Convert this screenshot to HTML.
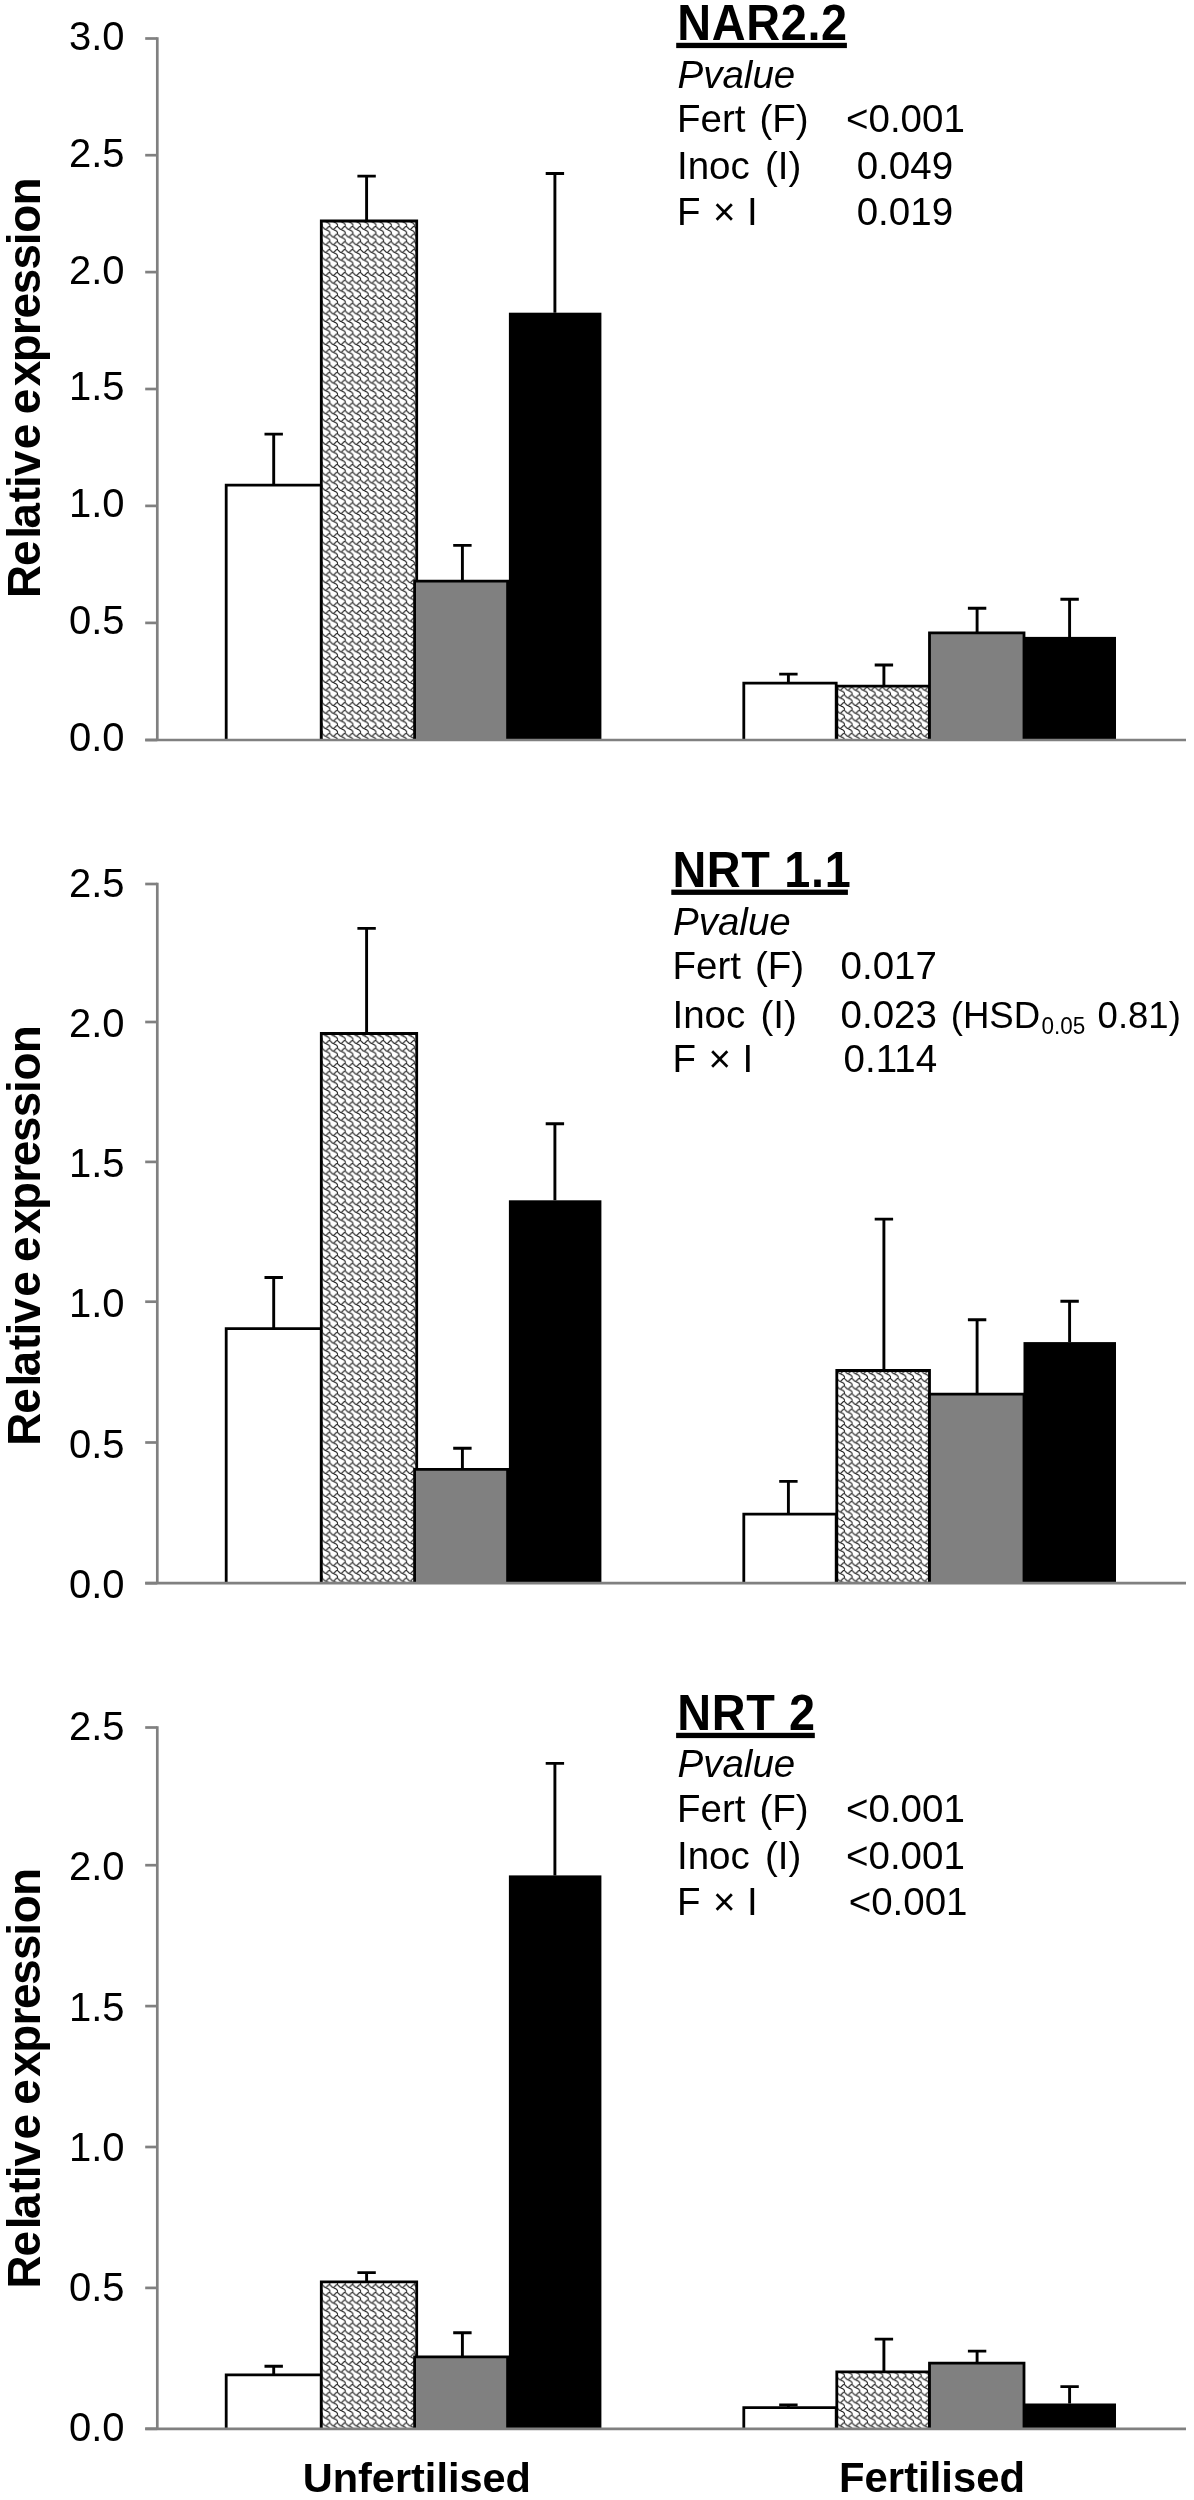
<!DOCTYPE html>
<html><head><meta charset="utf-8"><title>Relative expression</title>
<style>html,body{margin:0;padding:0;background:#fff;}svg{display:block;will-change:transform;}text{font-family:"Liberation Sans",sans-serif;fill:#000;}.tk{font-size:40px;}.pv{font-size:38.5px;}.ti{font-size:48px;font-weight:bold;}.yl{font-size:45.8px;font-weight:bold;}.xl{font-size:41.5px;font-weight:bold;}</style></head><body>
<svg width="1194" height="2500" viewBox="0 0 1194 2500">
<defs>
<pattern id="wv" width="8" height="8" patternUnits="userSpaceOnUse" patternTransform="translate(0.11,3.3) scale(0.96)"><rect x="-1" y="-1" width="10" height="10" fill="#fff"/><path d="M-7.5,-6.5 L-6.5,-5.5 L-5.5,-4.5 L-4.5,-4.5 L-3.5,-3.5 L-2.5,-3.5 L-1.5,-2.5 L-0.5,-1.5 L-0.5,-0.5 L-0.5,0.5 L0.5,1.5 M-0.5,-7.5 L-1.5,-7.5 L-2.5,-6.5 L-3.5,-5.5 L-4.5,-4.5 M-7.5,1.5 L-6.5,2.5 L-5.5,3.5 L-4.5,3.5 L-3.5,4.5 L-2.5,4.5 L-1.5,5.5 L-0.5,6.5 L-0.5,7.5 L-0.5,8.5 L0.5,9.5 M-0.5,0.5 L-1.5,0.5 L-2.5,1.5 L-3.5,2.5 L-4.5,3.5 M-7.5,9.5 L-6.5,10.5 L-5.5,11.5 L-4.5,11.5 L-3.5,12.5 L-2.5,12.5 L-1.5,13.5 L-0.5,14.5 L-0.5,15.5 L-0.5,16.5 L0.5,17.5 M-0.5,8.5 L-1.5,8.5 L-2.5,9.5 L-3.5,10.5 L-4.5,11.5 M0.5,-6.5 L1.5,-5.5 L2.5,-4.5 L3.5,-4.5 L4.5,-3.5 L5.5,-3.5 L6.5,-2.5 L7.5,-1.5 L7.5,-0.5 L7.5,0.5 L8.5,1.5 M7.5,-7.5 L6.5,-7.5 L5.5,-6.5 L4.5,-5.5 L3.5,-4.5 M0.5,1.5 L1.5,2.5 L2.5,3.5 L3.5,3.5 L4.5,4.5 L5.5,4.5 L6.5,5.5 L7.5,6.5 L7.5,7.5 L7.5,8.5 L8.5,9.5 M7.5,0.5 L6.5,0.5 L5.5,1.5 L4.5,2.5 L3.5,3.5 M0.5,9.5 L1.5,10.5 L2.5,11.5 L3.5,11.5 L4.5,12.5 L5.5,12.5 L6.5,13.5 L7.5,14.5 L7.5,15.5 L7.5,16.5 L8.5,17.5 M7.5,8.5 L6.5,8.5 L5.5,9.5 L4.5,10.5 L3.5,11.5 M8.5,-6.5 L9.5,-5.5 L10.5,-4.5 L11.5,-4.5 L12.5,-3.5 L13.5,-3.5 L14.5,-2.5 L15.5,-1.5 L15.5,-0.5 L15.5,0.5 L16.5,1.5 M15.5,-7.5 L14.5,-7.5 L13.5,-6.5 L12.5,-5.5 L11.5,-4.5 M8.5,1.5 L9.5,2.5 L10.5,3.5 L11.5,3.5 L12.5,4.5 L13.5,4.5 L14.5,5.5 L15.5,6.5 L15.5,7.5 L15.5,8.5 L16.5,9.5 M15.5,0.5 L14.5,0.5 L13.5,1.5 L12.5,2.5 L11.5,3.5 M8.5,9.5 L9.5,10.5 L10.5,11.5 L11.5,11.5 L12.5,12.5 L13.5,12.5 L14.5,13.5 L15.5,14.5 L15.5,15.5 L15.5,16.5 L16.5,17.5 M15.5,8.5 L14.5,8.5 L13.5,9.5 L12.5,10.5 L11.5,11.5 " stroke="#2a2a2a" stroke-width="1.08" fill="none" stroke-linejoin="round" stroke-linecap="round"/></pattern>
</defs>
<rect width="1194" height="2500" fill="#fff"/>
<g>
<path d="M226.20,740.00 L226.20,485.10 L321.30,485.10 L321.30,740.00" fill="#fff" stroke="#000" stroke-width="2.8" stroke-linejoin="miter"/>
<path d="M321.30,740.00 L321.30,221.00 L416.70,221.00 L416.70,740.00" fill="url(#wv)" stroke="#000" stroke-width="2.8" stroke-linejoin="miter"/>
<path d="M414.60,740.00 L414.60,581.20 L507.60,581.20 L507.60,740.00" fill="#808080" stroke="#000" stroke-width="2.8" stroke-linejoin="miter"/>
<rect x="508.90" y="312.70" width="92.50" height="427.30" fill="#000"/>
<path d="M273.70,485.10 L273.70,434.10 M264.50,434.10 L282.90,434.10" stroke="#000" stroke-width="2.9" fill="none"/>
<path d="M366.60,221.00 L366.60,176.10 M357.40,176.10 L375.80,176.10" stroke="#000" stroke-width="2.9" fill="none"/>
<path d="M462.40,581.20 L462.40,545.40 M453.20,545.40 L471.60,545.40" stroke="#000" stroke-width="2.9" fill="none"/>
<path d="M554.90,312.70 L554.90,173.50 M545.70,173.50 L564.10,173.50" stroke="#000" stroke-width="2.9" fill="none"/>
<path d="M743.80,740.00 L743.80,683.20 L836.20,683.20 L836.20,740.00" fill="#fff" stroke="#000" stroke-width="2.8" stroke-linejoin="miter"/>
<path d="M836.80,740.00 L836.80,686.10 L929.50,686.10 L929.50,740.00" fill="url(#wv)" stroke="#000" stroke-width="2.8" stroke-linejoin="miter"/>
<path d="M929.50,740.00 L929.50,632.90 L1024.00,632.90 L1024.00,740.00" fill="#808080" stroke="#000" stroke-width="2.8" stroke-linejoin="miter"/>
<rect x="1023.50" y="636.90" width="92.50" height="103.10" fill="#000"/>
<path d="M788.40,683.20 L788.40,674.10 M779.20,674.10 L797.60,674.10" stroke="#000" stroke-width="2.9" fill="none"/>
<path d="M883.90,686.10 L883.90,665.00 M874.70,665.00 L893.10,665.00" stroke="#000" stroke-width="2.9" fill="none"/>
<path d="M977.10,632.90 L977.10,608.30 M967.90,608.30 L986.30,608.30" stroke="#000" stroke-width="2.9" fill="none"/>
<path d="M1069.60,636.90 L1069.60,599.20 M1060.40,599.20 L1078.80,599.20" stroke="#000" stroke-width="2.9" fill="none"/>
<path d="M157.3,37.15 L157.3,740.00" stroke="#808080" stroke-width="2.7" fill="none"/>
<path d="M145.2,740.00 L1186,740.00" stroke="#808080" stroke-width="2.7" fill="none"/>
<path d="M145.2,38.50 L157.3,38.50" stroke="#808080" stroke-width="2.7" fill="none"/>
<text class="tk" transform="translate(68.9,50.20) scale(1,1.035)">3.0</text>
<path d="M145.2,155.20 L157.3,155.20" stroke="#808080" stroke-width="2.7" fill="none"/>
<text class="tk" transform="translate(68.9,166.95) scale(1,1.035)">2.5</text>
<path d="M145.2,272.10 L157.3,272.10" stroke="#808080" stroke-width="2.7" fill="none"/>
<text class="tk" transform="translate(68.9,283.70) scale(1,1.035)">2.0</text>
<path d="M145.2,389.00 L157.3,389.00" stroke="#808080" stroke-width="2.7" fill="none"/>
<text class="tk" transform="translate(68.9,400.45) scale(1,1.035)">1.5</text>
<path d="M145.2,505.90 L157.3,505.90" stroke="#808080" stroke-width="2.7" fill="none"/>
<text class="tk" transform="translate(68.9,517.20) scale(1,1.035)">1.0</text>
<path d="M145.2,622.90 L157.3,622.90" stroke="#808080" stroke-width="2.7" fill="none"/>
<text class="tk" transform="translate(68.9,633.95) scale(1,1.035)">0.5</text>
<path d="M145.2,740.00 L157.3,740.00" stroke="#808080" stroke-width="2.7" fill="none"/>
<text class="tk" transform="translate(68.9,750.70) scale(1,1.035)">0.0</text>
<text class="yl" transform="translate(40.2,595.00) rotate(-90) scale(1,1.01)" x="-3.02 28.91 56.23 66.56 92.68 107.13 119.01 145.86 180.81 208.81 232.76 259.84 276.41 300.75 325.45 349.83 362.26 389.44">Relativeexpression</text>
</g>
<g>
<path d="M226.20,1583.20 L226.20,1328.60 L321.30,1328.60 L321.30,1583.20" fill="#fff" stroke="#000" stroke-width="2.8" stroke-linejoin="miter"/>
<path d="M321.30,1583.20 L321.30,1033.50 L416.70,1033.50 L416.70,1583.20" fill="url(#wv)" stroke="#000" stroke-width="2.8" stroke-linejoin="miter"/>
<path d="M414.60,1583.20 L414.60,1469.30 L507.60,1469.30 L507.60,1583.20" fill="#808080" stroke="#000" stroke-width="2.8" stroke-linejoin="miter"/>
<rect x="508.90" y="1200.30" width="92.50" height="382.90" fill="#000"/>
<path d="M273.70,1328.60 L273.70,1277.50 M264.50,1277.50 L282.90,1277.50" stroke="#000" stroke-width="2.9" fill="none"/>
<path d="M366.60,1033.50 L366.60,928.40 M357.40,928.40 L375.80,928.40" stroke="#000" stroke-width="2.9" fill="none"/>
<path d="M462.40,1469.30 L462.40,1448.30 M453.20,1448.30 L471.60,1448.30" stroke="#000" stroke-width="2.9" fill="none"/>
<path d="M554.90,1200.30 L554.90,1123.70 M545.70,1123.70 L564.10,1123.70" stroke="#000" stroke-width="2.9" fill="none"/>
<path d="M743.80,1583.20 L743.80,1514.20 L836.20,1514.20 L836.20,1583.20" fill="#fff" stroke="#000" stroke-width="2.8" stroke-linejoin="miter"/>
<path d="M836.80,1583.20 L836.80,1370.50 L929.50,1370.50 L929.50,1583.20" fill="url(#wv)" stroke="#000" stroke-width="2.8" stroke-linejoin="miter"/>
<path d="M929.50,1583.20 L929.50,1394.10 L1024.00,1394.10 L1024.00,1583.20" fill="#808080" stroke="#000" stroke-width="2.8" stroke-linejoin="miter"/>
<rect x="1023.50" y="1342.10" width="92.50" height="241.10" fill="#000"/>
<path d="M788.40,1514.20 L788.40,1481.40 M779.20,1481.40 L797.60,1481.40" stroke="#000" stroke-width="2.9" fill="none"/>
<path d="M883.90,1370.50 L883.90,1219.10 M874.70,1219.10 L893.10,1219.10" stroke="#000" stroke-width="2.9" fill="none"/>
<path d="M977.10,1394.10 L977.10,1319.70 M967.90,1319.70 L986.30,1319.70" stroke="#000" stroke-width="2.9" fill="none"/>
<path d="M1069.60,1342.10 L1069.60,1301.20 M1060.40,1301.20 L1078.80,1301.20" stroke="#000" stroke-width="2.9" fill="none"/>
<path d="M157.3,882.65 L157.3,1583.20" stroke="#808080" stroke-width="2.7" fill="none"/>
<path d="M145.2,1583.20 L1186,1583.20" stroke="#808080" stroke-width="2.7" fill="none"/>
<path d="M145.2,884.00 L157.3,884.00" stroke="#808080" stroke-width="2.7" fill="none"/>
<text class="tk" transform="translate(68.9,896.70) scale(1,1.035)">2.5</text>
<path d="M145.2,1022.00 L157.3,1022.00" stroke="#808080" stroke-width="2.7" fill="none"/>
<text class="tk" transform="translate(68.9,1036.80) scale(1,1.035)">2.0</text>
<path d="M145.2,1161.90 L157.3,1161.90" stroke="#808080" stroke-width="2.7" fill="none"/>
<text class="tk" transform="translate(68.9,1176.80) scale(1,1.035)">1.5</text>
<path d="M145.2,1301.70 L157.3,1301.70" stroke="#808080" stroke-width="2.7" fill="none"/>
<text class="tk" transform="translate(68.9,1316.80) scale(1,1.035)">1.0</text>
<path d="M145.2,1442.50 L157.3,1442.50" stroke="#808080" stroke-width="2.7" fill="none"/>
<text class="tk" transform="translate(68.9,1457.60) scale(1,1.035)">0.5</text>
<path d="M145.2,1583.20 L157.3,1583.20" stroke="#808080" stroke-width="2.7" fill="none"/>
<text class="tk" transform="translate(68.9,1598.40) scale(1,1.035)">0.0</text>
<text class="yl" transform="translate(40.2,1442.70) rotate(-90) scale(1,1.01)" x="-3.02 28.91 56.23 66.56 92.68 107.13 119.01 145.86 180.81 208.81 232.76 259.84 276.41 300.75 325.45 349.83 362.26 389.44">Relativeexpression</text>
</g>
<g>
<path d="M226.20,2428.80 L226.20,2374.80 L321.30,2374.80 L321.30,2428.80" fill="#fff" stroke="#000" stroke-width="2.8" stroke-linejoin="miter"/>
<path d="M321.30,2428.80 L321.30,2281.80 L416.70,2281.80 L416.70,2428.80" fill="url(#wv)" stroke="#000" stroke-width="2.8" stroke-linejoin="miter"/>
<path d="M414.60,2428.80 L414.60,2356.90 L507.60,2356.90 L507.60,2428.80" fill="#808080" stroke="#000" stroke-width="2.8" stroke-linejoin="miter"/>
<rect x="508.90" y="1875.40" width="92.50" height="553.40" fill="#000"/>
<path d="M273.70,2374.80 L273.70,2366.20 M264.50,2366.20 L282.90,2366.20" stroke="#000" stroke-width="2.9" fill="none"/>
<path d="M366.60,2281.80 L366.60,2272.60 M357.40,2272.60 L375.80,2272.60" stroke="#000" stroke-width="2.9" fill="none"/>
<path d="M462.40,2356.90 L462.40,2332.70 M453.20,2332.70 L471.60,2332.70" stroke="#000" stroke-width="2.9" fill="none"/>
<path d="M554.90,1875.40 L554.90,1763.40 M545.70,1763.40 L564.10,1763.40" stroke="#000" stroke-width="2.9" fill="none"/>
<path d="M743.80,2428.80 L743.80,2407.70 L836.20,2407.70 L836.20,2428.80" fill="#fff" stroke="#000" stroke-width="2.8" stroke-linejoin="miter"/>
<path d="M836.80,2428.80 L836.80,2371.90 L929.50,2371.90 L929.50,2428.80" fill="url(#wv)" stroke="#000" stroke-width="2.8" stroke-linejoin="miter"/>
<path d="M929.50,2428.80 L929.50,2363.10 L1024.00,2363.10 L1024.00,2428.80" fill="#808080" stroke="#000" stroke-width="2.8" stroke-linejoin="miter"/>
<rect x="1023.50" y="2403.50" width="92.50" height="25.30" fill="#000"/>
<path d="M788.40,2407.70 L788.40,2404.90 M779.20,2404.90 L797.60,2404.90" stroke="#000" stroke-width="2.9" fill="none"/>
<path d="M883.90,2371.90 L883.90,2339.10 M874.70,2339.10 L893.10,2339.10" stroke="#000" stroke-width="2.9" fill="none"/>
<path d="M977.10,2363.10 L977.10,2351.10 M967.90,2351.10 L986.30,2351.10" stroke="#000" stroke-width="2.9" fill="none"/>
<path d="M1069.60,2403.50 L1069.60,2386.60 M1060.40,2386.60 L1078.80,2386.60" stroke="#000" stroke-width="2.9" fill="none"/>
<path d="M157.3,1726.15 L157.3,2428.80" stroke="#808080" stroke-width="2.7" fill="none"/>
<path d="M145.2,2428.80 L1186,2428.80" stroke="#808080" stroke-width="2.7" fill="none"/>
<path d="M145.2,1727.50 L157.3,1727.50" stroke="#808080" stroke-width="2.7" fill="none"/>
<text class="tk" transform="translate(68.9,1740.25) scale(1,1.035)">2.5</text>
<path d="M145.2,1865.20 L157.3,1865.20" stroke="#808080" stroke-width="2.7" fill="none"/>
<text class="tk" transform="translate(68.9,1880.40) scale(1,1.035)">2.0</text>
<path d="M145.2,2006.10 L157.3,2006.10" stroke="#808080" stroke-width="2.7" fill="none"/>
<text class="tk" transform="translate(68.9,2020.50) scale(1,1.035)">1.5</text>
<path d="M145.2,2147.00 L157.3,2147.00" stroke="#808080" stroke-width="2.7" fill="none"/>
<text class="tk" transform="translate(68.9,2160.60) scale(1,1.035)">1.0</text>
<path d="M145.2,2287.90 L157.3,2287.90" stroke="#808080" stroke-width="2.7" fill="none"/>
<text class="tk" transform="translate(68.9,2300.80) scale(1,1.035)">0.5</text>
<path d="M145.2,2428.80 L157.3,2428.80" stroke="#808080" stroke-width="2.7" fill="none"/>
<text class="tk" transform="translate(68.9,2440.90) scale(1,1.035)">0.0</text>
<text class="yl" transform="translate(40.2,2285.45) rotate(-90) scale(1,1.01)" x="-3.02 28.91 56.23 66.56 92.68 107.13 119.01 145.86 180.81 208.81 232.76 259.84 276.41 300.75 325.45 349.83 362.26 389.44">Relativeexpression</text>
</g>
<text class="ti" transform="translate(677.30,40.20) scale(0.975,1.03)" letter-spacing="0.7">NAR2.2</text>
<rect x="676.20" y="42.80" width="170.70" height="5.3" fill="#000"/>
<text class="pv" transform="translate(677.50,87.90) scale(1,1.03)" font-style="italic">Pvalue</text>
<text class="pv" transform="translate(677.00,132.10) scale(1,1.03)" >Fert</text>
<text class="pv" transform="translate(759.50,132.10) scale(1,1.03)" >(F)</text>
<text class="pv" transform="translate(846.00,132.10) scale(1,1.03)" >&lt;0.001</text>
<text class="pv" transform="translate(677.00,179.30) scale(1,1.03)" >Inoc</text>
<text class="pv" transform="translate(764.90,179.30) scale(1,1.03)" >(I)</text>
<text class="pv" transform="translate(856.70,179.30) scale(1,1.03)" >0.049</text>
<text class="pv" transform="translate(677.00,224.80) scale(1,1.03)" >F</text>
<text class="pv" transform="translate(713.00,224.80) scale(1,1.03)" >×</text>
<text class="pv" transform="translate(747.00,224.80) scale(1,1.03)" >I</text>
<text class="pv" transform="translate(856.70,224.80) scale(1,1.03)" >0.019</text>
<text class="ti" transform="translate(672.40,887.00) scale(0.975,1.03)" letter-spacing="0.7">NRT 1.1</text>
<rect x="671.30" y="889.60" width="176.60" height="5.3" fill="#000"/>
<text class="pv" transform="translate(673.00,935.00) scale(1,1.03)" font-style="italic">Pvalue</text>
<text class="pv" transform="translate(672.50,979.40) scale(1,1.03)" >Fert</text>
<text class="pv" transform="translate(755.00,979.40) scale(1,1.03)" >(F)</text>
<text class="pv" transform="translate(840.60,979.40) scale(1,1.03)" >0.017</text>
<text class="pv" transform="translate(672.50,1027.70) scale(1,1.03)" >Inoc</text>
<text class="pv" transform="translate(760.40,1027.70) scale(1,1.03)" >(I)</text>
<text class="pv" transform="translate(840.60,1027.70) scale(1,1.03)" >0.023</text>
<text class="pv" transform="translate(950.70,1028.00) scale(1,1.03)" style="font-size:36.6px">(HSD</text>
<text class="pv" transform="translate(1041.50,1033.50) scale(1,1.03)" style="font-size:22.5px">0.05</text>
<text class="pv" transform="translate(1097.60,1028.00) scale(1,1.03)" style="font-size:36.5px">0.81)</text>
<text class="pv" transform="translate(672.50,1071.70) scale(1,1.03)" >F</text>
<text class="pv" transform="translate(708.50,1071.70) scale(1,1.03)" >×</text>
<text class="pv" transform="translate(742.50,1071.70) scale(1,1.03)" >I</text>
<text class="pv" transform="translate(843.60,1071.70) scale(1,1.03)" >0.114</text>
<text class="ti" transform="translate(677.20,1730.20) scale(0.975,1.03)" letter-spacing="0.7">NRT 2</text>
<rect x="676.10" y="1732.80" width="138.70" height="5.3" fill="#000"/>
<text class="pv" transform="translate(677.50,1776.80) scale(1,1.03)" font-style="italic">Pvalue</text>
<text class="pv" transform="translate(677.00,1822.30) scale(1,1.03)" >Fert</text>
<text class="pv" transform="translate(759.50,1822.30) scale(1,1.03)" >(F)</text>
<text class="pv" transform="translate(846.00,1822.30) scale(1,1.03)" >&lt;0.001</text>
<text class="pv" transform="translate(677.00,1869.30) scale(1,1.03)" >Inoc</text>
<text class="pv" transform="translate(764.90,1869.30) scale(1,1.03)" >(I)</text>
<text class="pv" transform="translate(846.00,1869.30) scale(1,1.03)" >&lt;0.001</text>
<text class="pv" transform="translate(677.00,1914.80) scale(1,1.03)" >F</text>
<text class="pv" transform="translate(713.00,1914.80) scale(1,1.03)" >×</text>
<text class="pv" transform="translate(747.00,1914.80) scale(1,1.03)" >I</text>
<text class="pv" transform="translate(848.70,1914.80) scale(1,1.03)" >&lt;0.001</text>
<text class="xl" transform="translate(416.8,2491.5)" text-anchor="middle">Unfertilised</text>
<text class="xl" transform="translate(932.0,2491.5)" text-anchor="middle" style="font-size:41.8px">Fertilised</text>
</svg></body></html>
